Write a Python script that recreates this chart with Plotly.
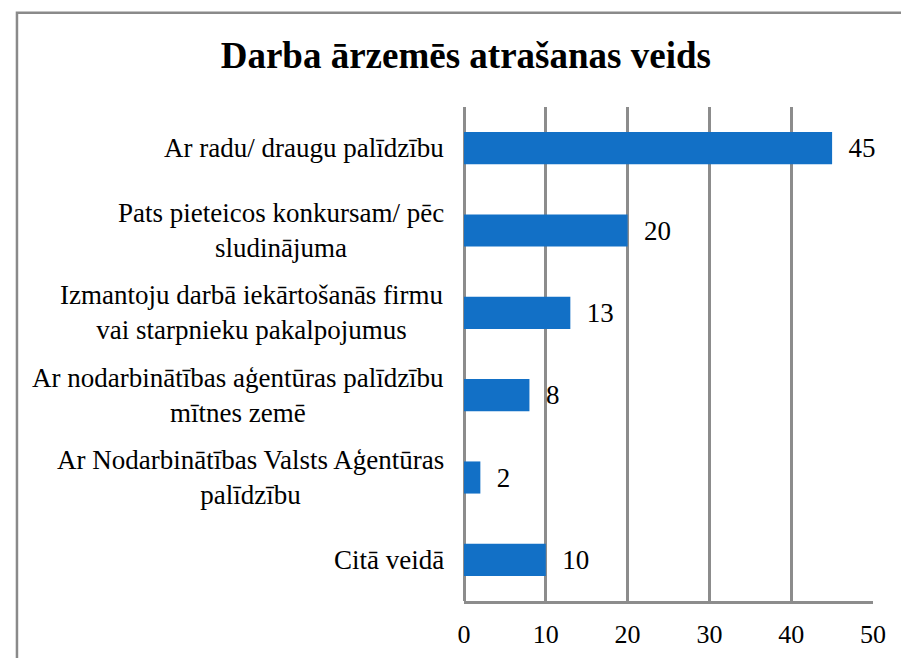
import plotly.graph_objects as go

categories = [
    "Ar radu/ draugu palīdzību",
    "Pats pieteicos konkursam/ pēc<br>sludinājuma",
    "Izmantoju darbā iekārtošanās firmu<br>vai starpnieku pakalpojumus",
    "Ar nodarbinātības aģentūras palīdzību<br>mītnes zemē",
    "Ar Nodarbinātības Valsts Aģentūras<br>palīdzību",
    "Citā veidā",
]
values = [45, 20, 13, 8, 2, 10]
x_ticks = [0, 10, 20, 30, 40, 50]
title_text = "Darba ārzemēs atrašanas veids"

FONT = "Liberation Serif"
GRID = "#8c8c8c"

fig = go.Figure()
fig.add_trace(go.Bar(
    y=list(range(len(categories))),
    x=values,
    orientation="h",
    marker=dict(color="#1270C6", line=dict(width=0)),
    width=0.39,
    text=values,
    texttemplate="\u00a0\u00a0%{x}",
    textposition="outside",
    textfont=dict(family=FONT, size=27, color="black"),
    cliponaxis=False,
    hoverinfo="skip",
))

for i, c in enumerate(categories):
    fig.add_annotation(
        x=0, xref="paper", y=i, yref="y",
        text=c, showarrow=False, xanchor="right", yanchor="middle",
        align="center", xshift=-18,
        font=dict(family=FONT, size=27, color="black"),
    )

# outer chart border (extends beyond the visible page, as in the reference)
fig.add_shape(type="rect", xref="paper", yref="paper",
              x0=-1.093, x1=1.3, y0=-0.3, y1=1.191,
              line=dict(color="#8a8a8a", width=2.5), layer="below")

fig.update_layout(
    width=901, height=658,
    margin=dict(l=464, r=28, t=107, b=57, autoexpand=False),
    paper_bgcolor="white", plot_bgcolor="white",
    showlegend=False,
    font=dict(family=FONT),
    title=dict(text=f"<b>{title_text}</b>", x=0.517, xref="container",
               y=0.916, yref="container", xanchor="center", yanchor="middle",
               font=dict(family=FONT, size=37, color="black")),
    xaxis=dict(range=[0, 50], tickvals=x_ticks, showgrid=True,
               gridcolor=GRID, gridwidth=2.5,
               zeroline=True, zerolinecolor=GRID, zerolinewidth=2.5,
               showline=True, linecolor=GRID, linewidth=2.5,
               ticks="outside", ticklen=8, tickcolor="rgba(0,0,0,0)",
               tickfont=dict(family=FONT, size=26, color="black")),
    yaxis=dict(range=[5.5, -0.5], showticklabels=False, showgrid=False,
               zeroline=False, showline=False, ticks=""),
)

fig.write_html("out.html", config={"displayModeBar": False},
               post_script="document.body.style.margin='0';document.body.style.padding='0';")
